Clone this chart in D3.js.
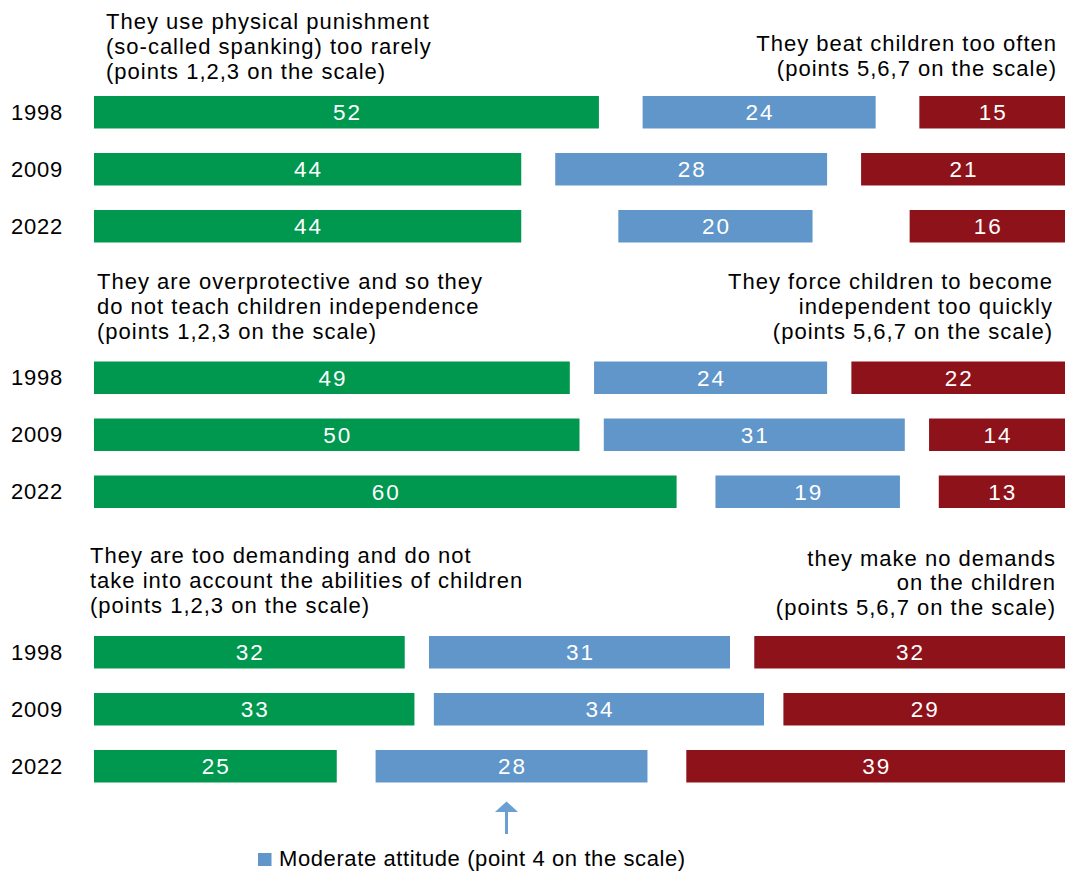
<!DOCTYPE html>
<html>
<head>
<meta charset="utf-8">
<script src="https://cdn.jsdelivr.net/npm/d3@7"></script>
<style>
  html, body { margin: 0; padding: 0; background: #ffffff; }
  svg { display: block; }
  text { font-family: "Liberation Sans", Arial, sans-serif; }
</style>
</head>
<body>
<svg id="chart" width="1065" height="872"></svg>
<script>
// ---------------- DATA ----------------
const years = ["1998", "2009", "2022"];

// Panel 1: physical punishment
const p1Harsh    = [52, 44, 44];   // points 1,2,3
const p1Moderate = [24, 28, 20];   // point 4
const p1Opposite = [15, 21, 16];   // points 5,6,7
// Panel 2: overprotective
const p2Harsh    = [49, 50, 60];
const p2Moderate = [24, 31, 19];
const p2Opposite = [22, 14, 13];
// Panel 3: demanding
const p3Harsh    = [32, 33, 25];
const p3Moderate = [31, 34, 28];
const p3Opposite = [32, 29, 39];

const leftHeaders = [
  ["They use physical punishment", "(so-called spanking) too rarely", "(points 1,2,3 on the scale)"],
  ["They are overprotective and so they", "do not teach children independence", "(points 1,2,3 on the scale)"],
  ["They are too demanding and do not", "take into account the abilities of children", "(points 1,2,3 on the scale)"]
];
const rightHeaders = [
  ["They beat children too often", "(points 5,6,7 on the scale)"],
  ["They force children to become", "independent too quickly", "(points 5,6,7 on the scale)"],
  ["they make no demands", "on the children", "(points 5,6,7 on the scale)"]
];
const legendLabel = "Moderate attitude (point 4 on the scale)";

// ---------------- LAYOUT / STYLE ----------------
const COLORS = { harsh: "#00974F", moderate: "#6096C9", opposite: "#8D121A" };
const panels = [
  { harsh: p1Harsh, moderate: p1Moderate, opposite: p1Opposite, top: 96,
    leftX: 106, leftY: [29, 54, 79], rightX: 1057, rightY: [51, 76] },
  { harsh: p2Harsh, moderate: p2Moderate, opposite: p2Opposite, top: 361.5,
    leftX: 97, leftY: [289, 314, 339], rightX: 1053, rightY: [289, 314, 339] },
  { harsh: p3Harsh, moderate: p3Moderate, opposite: p3Opposite, top: 636,
    leftX: 90, leftY: [563, 588, 613], rightX: 1056, rightY: [566, 590, 615] }
];
const ROW_STEP = 57, PAD = 0.43;

const svg = d3.select("#chart");
const x = d3.scaleLinear().domain([0, 100]).range([94, 1065]);

const FONT = 22, LS = 1;

panels.forEach((p, pi) => {
  const y = d3.scaleBand().domain(years)
    .range([p.top, p.top + ROW_STEP * (years.length - PAD)])
    .paddingInner(PAD).paddingOuter(0);

  const rows = years.map((yr, i) => {
    const g = p.harsh[i], b = p.moderate[i], r = p.opposite[i];
    const gap = (100 - g - b - r) / 2;
    return [
      { yr, key: "harsh", v: g, x0: 0, x1: g },
      { yr, key: "moderate", v: b, x0: g + gap, x1: g + gap + b },
      { yr, key: "opposite", v: r, x0: 100 - r, x1: 100 }
    ];
  }).flat();

  const g = svg.append("g");
  g.selectAll("rect").data(rows).join("rect")
    .attr("x", d => x(d.x0))
    .attr("y", d => y(d.yr))
    .attr("width", d => x(d.x1) - x(d.x0))
    .attr("height", y.bandwidth())
    .attr("fill", d => COLORS[d.key]);

  g.selectAll("text.val").data(rows).join("text")
    .attr("class", "val")
    .attr("x", d => (x(d.x0) + x(d.x1)) / 2 + 1)
    .attr("y", d => y(d.yr) + y.bandwidth() / 2 + 8)
    .attr("text-anchor", "middle")
    .attr("fill", "#ffffff")
    .style("font-size", "22.5px")
    .style("letter-spacing", "2px")
    .text(d => d.v);

  g.selectAll("text.yr").data(years).join("text")
    .attr("class", "yr")
    .attr("x", 11)
    .attr("y", d => y(d) + y.bandwidth() / 2 + 7.5)
    .attr("fill", "#000")
    .style("font-size", FONT + "px")
    .style("letter-spacing", "0.8px")
    .text(d => d);

  g.selectAll("text.lh").data(leftHeaders[pi]).join("text")
    .attr("class", "lh")
    .attr("x", p.leftX)
    .attr("y", (d, i) => p.leftY[i])
    .attr("fill", "#000")
    .style("font-size", FONT + "px")
    .style("letter-spacing", LS + "px")
    .text(d => d);

  g.selectAll("text.rh").data(rightHeaders[pi]).join("text")
    .attr("class", "rh")
    .attr("x", p.rightX)
    .attr("y", (d, i) => p.rightY[i])
    .attr("text-anchor", "end")
    .attr("fill", "#000")
    .style("font-size", FONT + "px")
    .style("letter-spacing", LS + "px")
    .text(d => d);
});

// arrow
const arrowColor = "#6A9FD4";
svg.append("line")
  .attr("x1", 506.5).attr("x2", 506.5)
  .attr("y1", 809).attr("y2", 834)
  .attr("stroke", arrowColor).attr("stroke-width", 3);
svg.append("path")
  .attr("d", "M495,812 L506.5,801.5 L518,812 Z")
  .attr("fill", arrowColor);

// legend
svg.append("rect")
  .attr("x", 258).attr("y", 853).attr("width", 13.5).attr("height", 13)
  .attr("fill", COLORS.moderate);
svg.append("text")
  .attr("x", 279).attr("y", 866)
  .attr("fill", "#000")
  .style("font-size", FONT + "px")
  .style("letter-spacing", "0.6px")
  .text(legendLabel);
</script>
</body>
</html>
